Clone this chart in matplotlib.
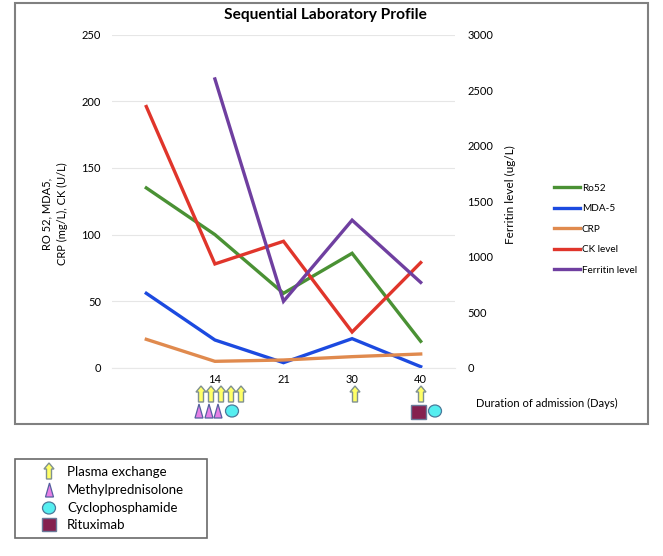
import numpy as np
import matplotlib
matplotlib.use("Agg")
import matplotlib.pyplot as plt
from matplotlib.patches import Polygon, Ellipse, Rectangle

plt.rcParams['font.family'] = ['Lato', 'DejaVu Sans']

W, H = 663, 556
categories = ['', '14', '21', '30', '40']
ro52 = [135, 100, 56, 86, 20]
mda5 = [56, 21, 4, 22, 1]
crp = [21.5, 5, 6, 8.5, 10.5]
ck = [196, 78, 95, 27, 79]
ferritin = [np.nan, 2600, 600, 1330, 770]
left_ticks = [0, 50, 100, 150, 200, 250]
right_ticks = [0, 500, 1000, 1500, 2000, 2500, 3000]
series_names = ['Ro52', 'MDA-5', 'CRP', 'CK level', 'Ferritin level']
series_colors = ['#4a9134', '#1c4ae0', '#e08a4e', '#e0352b', '#6f3fa0']
plasma_x = [201, 211, 221, 231, 241, 355, 421]
methyl_x = [199, 209, 218]
cyclo_x = [232, 435]
ritux_x = [418]
treatments = ['Plasma exchange', 'Methylprednisolone', 'Cyclophosphamide', 'Rituximab']

fig = plt.figure(figsize=(W/100, H/100), dpi=100)
ax = fig.add_axes([112/W, 1-368/H, (455-112)/W, (368-34.5)/H])
x = np.arange(len(categories))
ax.set_xlim(-0.5, len(categories)-0.5)
ax.set_ylim(0, 250)
ax.yaxis.grid(True, color='#e6e6e6', lw=0.8)
ax.set_axisbelow(True)
for s in ax.spines.values():
    s.set_visible(False)
ax.spines['bottom'].set_visible(True)
ax.spines['bottom'].set_color('#e8e8e8')
ax.set_yticks(left_ticks)
ax.set_xticks(x)
ax.set_xticklabels(categories)
ax.tick_params(length=0, labelsize=8, colors='black')
ax.tick_params(axis='x', pad=4)
ax.tick_params(axis='y', pad=8)

ax2 = ax.twinx()
ax2.set_ylim(0, 3000)
ax2.set_yticks(right_ticks)
ax2.tick_params(length=0, labelsize=8, pad=9)
for s in ax2.spines.values():
    s.set_visible(False)

handles = []
for vals, c, n in zip([ro52, mda5, crp, ck], series_colors[:4], series_names[:4]):
    handles += ax.plot(x, vals, color=c, lw=2.4, label=n, solid_joinstyle='miter')
handles += ax2.plot(x, ferritin, color=series_colors[4], lw=2.4, label=series_names[4], solid_joinstyle='miter')

fig.legend(handles=handles, loc='upper left', bbox_to_anchor=(554/W, 1-183.5/H), frameon=False,
           fontsize=7.2, handlelength=2.6, handletextpad=0.2, labelspacing=1.15, borderpad=0, borderaxespad=0)

def T(px, py, s, **kw):
    return fig.text(px/W, 1-py/H, s, **kw)

T(325, 15, 'Sequential Laboratory Profile', ha='center', va='center', fontsize=11.2, fontweight='bold')
T(54.5, 214, 'RO 52, MDA5,\nCRP (mg/L), CK (U/L)', rotation=90, ha='center', va='center', fontsize=8, linespacing=1.5)
T(510, 195, 'Ferritin level (ug/L)', rotation=90, ha='center', va='center', fontsize=8.5)
T(547, 403, 'Duration of admission (Days)', ha='center', va='center', fontsize=8)

# overlay in pixel coordinates
ov = fig.add_axes([0, 0, 1, 1], zorder=5)
ov.set_xlim(0, W); ov.set_ylim(H, 0); ov.axis('off'); ov.patch.set_alpha(0)

def arrow(cx, cy):
    hw, h = 5, 16
    pts = [(cx, cy-h/2), (cx+hw, cy-h/2+6), (cx+2.5, cy-h/2+6), (cx+2.5, cy+h/2),
           (cx-2.5, cy+h/2), (cx-2.5, cy-h/2+6), (cx-hw, cy-h/2+6)]
    ov.add_patch(Polygon(pts, closed=True, fc='#ffff66', ec='#7f9090', lw=1))
def tri(cx, cy):
    ov.add_patch(Polygon([(cx, cy-7), (cx+4, cy+7), (cx-4, cy+7)], closed=True, fc='#e57fe5', ec='#5560a0', lw=0.9))
def circ(cx, cy):
    ov.add_patch(Ellipse((cx, cy), 13, 12, fc='#55eef0', ec='#4a7a9a', lw=0.9))
def sq(cx, cy, w=15, h=14):
    ov.add_patch(Rectangle((cx-w/2, cy-h/2), w, h, fc='#85204f', ec='#6a7a9a', lw=1))

for px in plasma_x:
    arrow(px, 394)
for px in methyl_x:
    tri(px, 411)
for px in cyclo_x:
    circ(px, 411)
for px in ritux_x:
    sq(px, 412)

# page frame
ov.add_patch(Rectangle((15, 2.5), 633, 421, fc='none', ec='#808080', lw=1.5))

# treatment key
ov.add_patch(Rectangle((15, 459), 192, 79, fc='white', ec='#6a6a6a', lw=1.2))
ys = [472, 490, 508, 525]
arrow(49, 471); tri(49.5, 490); circ(49, 508); sq(48.5, 524, 14, 13)
for yy, t in zip(ys, treatments):
    ov.text(67, yy, t, va='center', ha='left', fontsize=9.5)

fig.savefig('out.png', dpi=100)
